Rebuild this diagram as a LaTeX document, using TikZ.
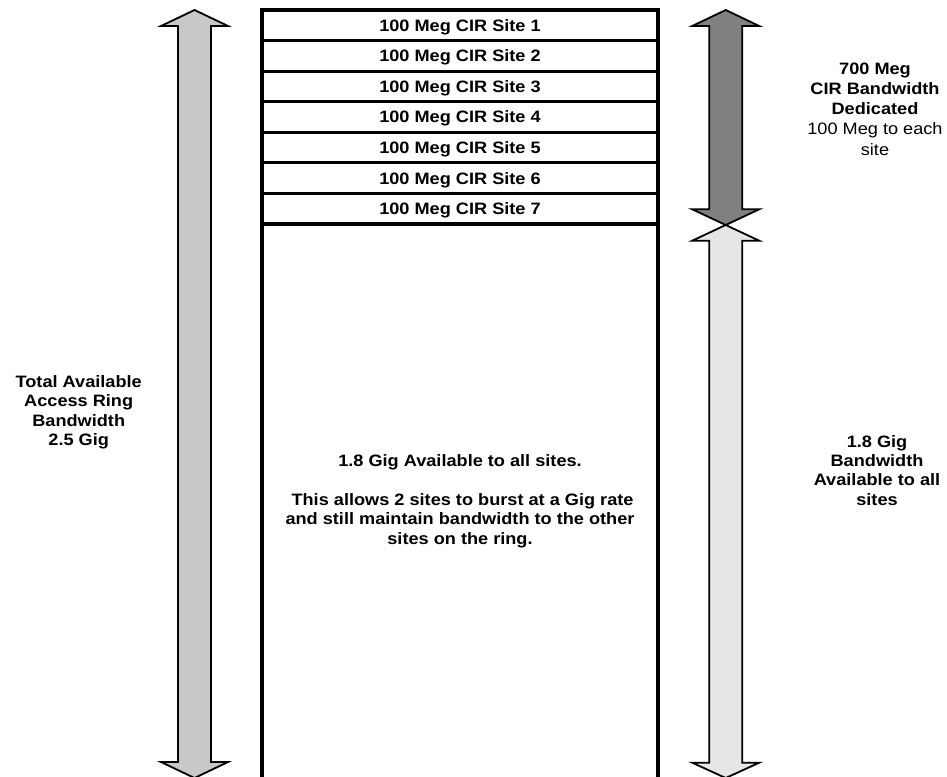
\documentclass[tikz,border=0pt]{standalone}
\usepackage{fontspec}
\setmainfont[FakeStretch=1.1]{Liberation Sans}
\definecolor{gLeft}{RGB}{200,200,200}
\definecolor{gDark}{RGB}{128,128,128}
\definecolor{gLight}{RGB}{230,230,230}
\newcommand\bwArrow[6]{% #1 cx, #2 tip top, #3 base top, #4 base bottom, #5 tip bottom, #6 fill
  \draw[arrowshape, fill=#6] (#1,#2) -- ++(33.5,#3-#2) -- ++(-17,0) -- (#1+16.5,#4) -- ++(17,0)
    -- (#1,#5) -- (#1-33.5,#4) -- ++(17,0) -- (#1-16.5,#3) -- ++(-17,0) -- cycle;}
\begin{document}
\begin{tikzpicture}[x=1pt,y=-1pt,
  txt/.style={font=\fontsize{16.5}{19.5}\selectfont, align=center, inner sep=0pt, anchor=north},
  rowbox/.style={draw, line width=3.2pt, minimum width=396pt, minimum height=30.57pt, inner sep=0pt,
    font=\fontsize{16.5}{19.5}\selectfont\bfseries, text height=11.8pt, text depth=0pt},
  arrowshape/.style={draw=black, line width=1.8pt, line join=miter}]
\path[use as bounding box] (0,0) rectangle (947,776);
\clip (0,0) rectangle (947,776);
\fill[white] (0,0) rectangle (947,776);

% pool box
\node[rowbox, minimum height=558pt] (pool) at (460,503) {};
\node[txt, font=\fontsize{16.5}{19.5}\selectfont\bfseries] (pooltext) at (460,454.2)
  {1.8 Gig Available to all sites.\\[19.5pt]
   \ This allows 2 sites to burst at a Gig rate\\
   and still maintain bandwidth to the other\\
   sites on the ring.};

% site rows
\node[rowbox] (r1) at (460,25.29) {100 Meg CIR Site 1};
\node[rowbox] (r2) at (460,55.86) {100 Meg CIR Site 2};
\node[rowbox] (r3) at (460,86.43) {100 Meg CIR Site 3};
\node[rowbox] (r4) at (460,117.0) {100 Meg CIR Site 4};
\node[rowbox] (r5) at (460,147.56) {100 Meg CIR Site 5};
\node[rowbox] (r6) at (460,178.13) {100 Meg CIR Site 6};
\node[rowbox] (r7) at (460,208.7) {100 Meg CIR Site 7};

% arrows
\bwArrow{194.5}{10}{26}{762}{778}{gLeft}
\bwArrow{725.7}{10}{26}{209.3}{225}{gDark}
\bwArrow{725.7}{225}{240.7}{762.7}{778}{gLight}

% labels
\node[txt, font=\fontsize{16.5}{19.3}\selectfont\bfseries] (ltext) at (78.7,375.5)
  {Total Available\\Access Ring\\Bandwidth\\2.5 Gig};
\node[txt, font=\fontsize{16.5}{20.2}\selectfont] (rtop) at (875,62.5)
  {\textbf{700 Meg}\\\textbf{CIR Bandwidth}\\\textbf{Dedicated}\\100 Meg to each\\site};
\node[txt, font=\fontsize{16.5}{19.4}\selectfont\bfseries] (rbot) at (877,435)
  {1.8 Gig\\Bandwidth\\Available to all\\sites};
\end{tikzpicture}
\end{document}
